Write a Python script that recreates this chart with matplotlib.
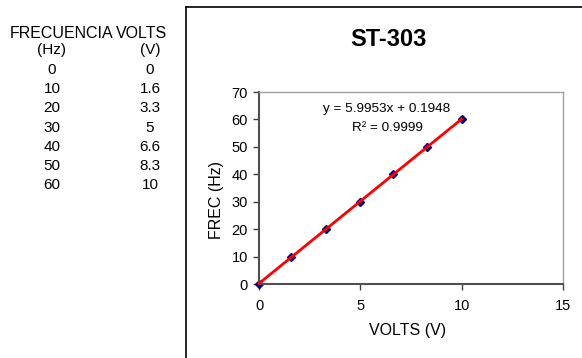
import numpy as np
import matplotlib
matplotlib.use("Agg")
import matplotlib.pyplot as plt
from matplotlib.lines import Line2D

plt.rcParams['font.family'] = ['Liberation Sans', 'DejaVu Sans']

frec_hz = [0, 10, 20, 30, 40, 50, 60]
volts = [0, 1.6, 3.3, 5, 6.6, 8.3, 10]
volts_labels = ['0', '1.6', '3.3', '5', '6.6', '8.3', '10']
title = 'ST-303'
eq_text = 'y = 5.9953x + 0.1948'
r2_text = 'R² = 0.9999'
xticks = [0, 5, 10, 15]
yticks = [0, 10, 20, 30, 40, 50, 60, 70]

W, H = 582, 358
fig = plt.figure(figsize=(W / 100, H / 100), dpi=100)


def px(x, y):
    return x / W, 1 - y / H


# left table
fig.text(*px(10, 33), 'FRECUENCIA', fontsize=11.5, ha='left', va='center')
fig.text(*px(116, 33), 'VOLTS', fontsize=11.5, ha='left', va='center')
fig.text(*px(52, 50), '(Hz)', fontsize=11, ha='center', va='center')
fig.text(*px(150, 50), '(V)', fontsize=11, ha='center', va='center')
for i, (f, v) in enumerate(zip(frec_hz, volts_labels)):
    y = 70 + i * 19.2
    fig.text(*px(52, y), str(f), fontsize=11, ha='center', va='center')
    fig.text(*px(150, y), v, fontsize=11, ha='center', va='center')

# outer chart frame
fig.add_artist(Line2D([185.5 / W, 185.5 / W], [0, 1 - 6.5 / H], color='black', lw=1.2))
fig.add_artist(Line2D([185.5 / W, 1], [1 - 6.5 / H, 1 - 6.5 / H], color='black', lw=1.2))

l, r, t, b = 259, 563, 92, 284
ax = fig.add_axes([l / W, 1 - b / H, (r - l) / W, (b - t) / H])

ax.plot(volts, frec_hz, linestyle='none', marker='D', markersize=4.5,
        color='#000080', zorder=2, clip_on=False)
slope, icpt = np.polyfit(volts, frec_hz, 1)
xs = np.array([min(volts), max(volts)])
ax.plot(xs, slope * xs + icpt, color='red', lw=2, zorder=3, clip_on=False)

ax.set_xlim(0, 15)
ax.set_ylim(0, 70)
ax.set_xticks(xticks)
ax.set_yticks(yticks)
ax.tick_params(direction='out', length=4, width=1, color='#404040',
               labelsize=10.5, top=False, right=False)
ax.tick_params(axis='y', pad=4)
ax.tick_params(axis='x', pad=7)
for s in ('left', 'bottom'):
    ax.spines[s].set_color('#505050')
    ax.spines[s].set_linewidth(1.5)
for s in ('top', 'right'):
    ax.spines[s].set_color('#a0a0a0')
    ax.spines[s].set_linewidth(1)

fig.text(*px(217, 200), 'FREC (Hz)', fontsize=11.5, rotation=90, ha='center', va='center')
fig.text(*px(408, 330), 'VOLTS (V)', fontsize=11.5, ha='center', va='center')
fig.text(*px(388, 40), title, fontsize=17, fontweight='bold', ha='center', va='center')
fig.text(*px(387, 109), eq_text, fontsize=9.7, ha='center', va='center')
fig.text(*px(387, 128), r2_text, fontsize=9.7, ha='center', va='center')

fig.savefig('out.png', dpi=100)
